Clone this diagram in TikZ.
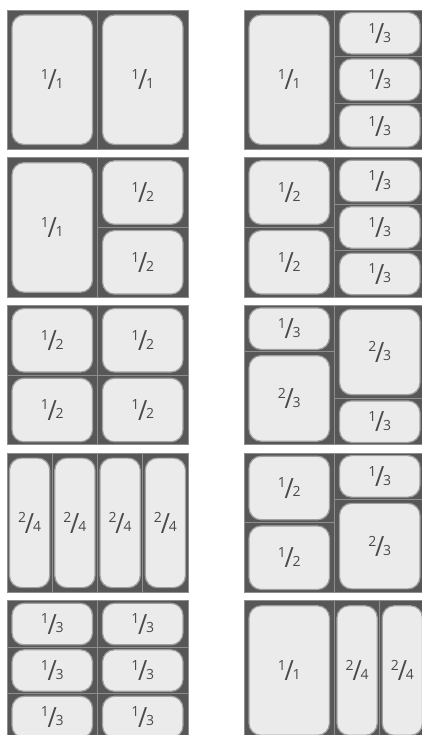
\documentclass[tikz,border=0pt]{standalone}
\usepackage{fontspec}
\setmainfont{Open Sans}
\usepackage{graphicx}
\usepackage{xcolor}
\definecolor{traygray}{HTML}{575757}
\definecolor{linegray}{HTML}{8E8E8E}
\definecolor{rimgray}{HTML}{A0A0A0}
\definecolor{panfill}{HTML}{EBEBEB}
\definecolor{fracgray}{HTML}{4A4A4A}

% fraction label: small numerator, long slash, small denominator
\newcommand{\pfrac}[2]{%
  \fontsize{14}{14}\selectfont
  \raisebox{9pt}{#1}\kern-1.2pt
  \raisebox{-1.2pt}{\scalebox{1.4}[1.55]{\fontsize{18}{18}\selectfont/}}\kern-1.2pt
  #2}

% one cell of a tray: name, x, y, w, h, numerator, denominator
\newcommand{\pan}[7]{%
  \pgfmathsetmacro\ix{#4/18}
  \pgfmathsetmacro\iy{2.5+(#5-46.5)*2.5/93}
  \draw[divider] (#2,#3) rectangle ++(#4,#5);
  \node[pan, minimum width={#4-2*\ix}, minimum height={#5-2*\iy}]
    (#1) at ({#2+#4/2},{#3+#5/2}) {\pfrac{#6}{#7}};
}

\begin{document}
\begin{tikzpicture}[
    x=1pt, y=-1pt,
    tray/.style={fill=traygray},
    divider/.style={draw=linegray, line width=0.9pt},
    pan/.style={draw=rimgray, line width=1.2pt, fill=panfill, rounded corners=12pt,
                inner sep=0pt, text=fracgray},
]
\useasboundingbox (0,0) rectangle (422,735);
\clip (0,0) rectangle (422,735);

% Row 1
\begin{scope}[shift={(7,10)}]
  \fill[tray] (0,0) rectangle (181,139.5);
  \pan{t1a}{0}{0}{90.5}{139.5}{1}{1}
  \pan{t1b}{90.5}{0}{90.5}{139.5}{1}{1}
\end{scope}
\begin{scope}[shift={(244,10)}]
  \fill[tray] (0,0) rectangle (181,139.5);
  \pan{t2a}{0}{0}{90.5}{139.5}{1}{1}
  \foreach \r in {0,1,2} {
    \pan{t2b\r}{90.5}{46.5*\r}{90.5}{46.5}{1}{3}
  }
\end{scope}

% Row 2
\begin{scope}[shift={(7,157.7)}]
  \fill[tray] (0,0) rectangle (181,139.5);
  \pan{t3a}{0}{0}{90.5}{139.5}{1}{1}
  \foreach \r in {0,1} {
    \pan{t3b\r}{90.5}{69.75*\r}{90.5}{69.75}{1}{2}
  }
\end{scope}
\begin{scope}[shift={(244,157.7)}]
  \fill[tray] (0,0) rectangle (181,139.5);
  \foreach \r in {0,1} {
    \pan{t4a\r}{0}{69.75*\r}{90.5}{69.75}{1}{2}
  }
  \foreach \r in {0,1,2} {
    \pan{t4b\r}{90.5}{46.5*\r}{90.5}{46.5}{1}{3}
  }
\end{scope}

% Row 3
\begin{scope}[shift={(7,305.4)}]
  \fill[tray] (0,0) rectangle (181,139.5);
  \foreach \c in {0,1} {
    \foreach \r in {0,1} {
      \pan{t5\c\r}{90.5*\c}{69.75*\r}{90.5}{69.75}{1}{2}
    }
  }
\end{scope}
\begin{scope}[shift={(244,305.4)}]
  \fill[tray] (0,0) rectangle (181,139.5);
  \pan{t6a}{0}{0}{90.5}{46.5}{1}{3}
  \pan{t6b}{0}{46.5}{90.5}{93}{2}{3}
  \pan{t6c}{90.5}{0}{90.5}{93}{2}{3}
  \pan{t6d}{90.5}{93}{90.5}{46.5}{1}{3}
\end{scope}

% Row 4
\begin{scope}[shift={(7,453.1)}]
  \fill[tray] (0,0) rectangle (181,139.5);
  \foreach \c in {0,1,2,3} {
    \pan{t7\c}{45.25*\c}{0}{45.25}{139.5}{2}{4}
  }
\end{scope}
\begin{scope}[shift={(244,453.1)}]
  \fill[tray] (0,0) rectangle (181,139.5);
  \foreach \r in {0,1} {
    \pan{t8a\r}{0}{69.75*\r}{90.5}{69.75}{1}{2}
  }
  \pan{t8b}{90.5}{0}{90.5}{46.5}{1}{3}
  \pan{t8c}{90.5}{46.5}{90.5}{93}{2}{3}
\end{scope}

% Row 5
\begin{scope}[shift={(7,600.8)}]
  \fill[tray] (0,0) rectangle (181,139.5);
  \foreach \c in {0,1} {
    \foreach \r in {0,1,2} {
      \pan{t9\c\r}{90.5*\c}{46.5*\r}{90.5}{46.5}{1}{3}
    }
  }
\end{scope}
\begin{scope}[shift={(244,600.8)}]
  \fill[tray] (0,0) rectangle (181,139.5);
  \pan{t10a}{0}{0}{90.5}{139.5}{1}{1}
  \pan{t10b}{90.5}{0}{45.25}{139.5}{2}{4}
  \pan{t10c}{135.75}{0}{45.25}{139.5}{2}{4}
\end{scope}

\end{tikzpicture}
\end{document}
